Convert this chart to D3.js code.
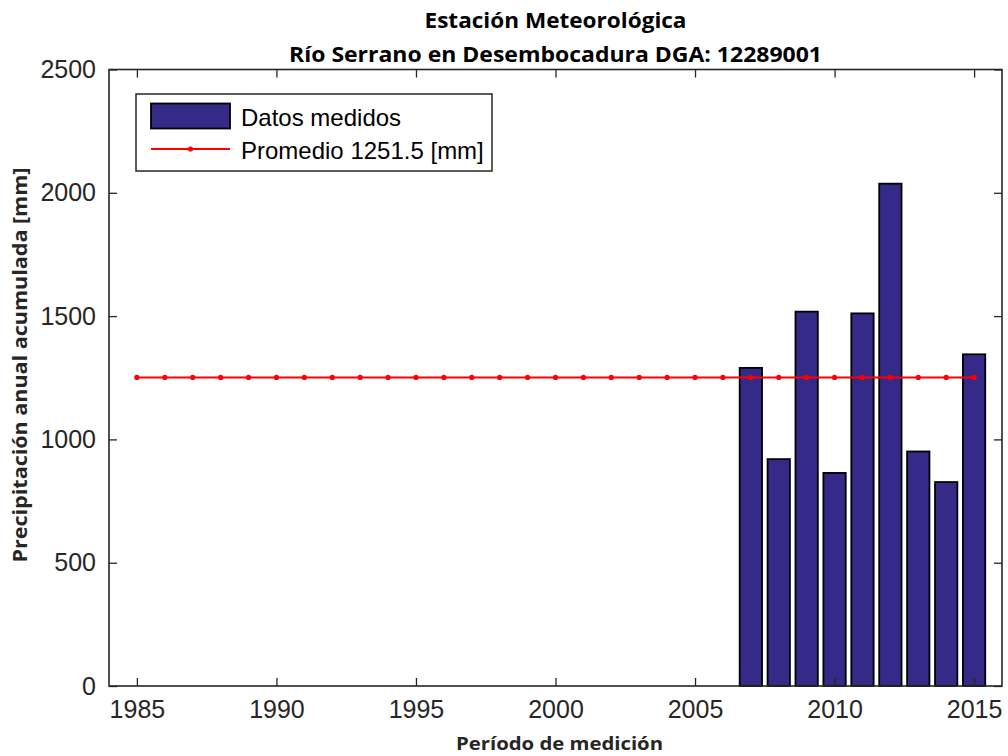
<!DOCTYPE html>
<html>
<head>
<meta charset="utf-8">
<script src="https://cdn.jsdelivr.net/npm/d3@7"></script>
<style>
  html, body { margin: 0; padding: 0; background: #fff; }
  svg { display: block; }
</style>
</head>
<body>
<svg id="chart" width="1008" height="756"></svg>
<script>
// ---- data ----
const years = [2007, 2008, 2009, 2010, 2011, 2012, 2013, 2014, 2015];
const precip = [1290, 920, 1518, 864, 1511, 2037, 951, 827, 1345];
const meanYears = [1985, 1986, 1987, 1988, 1989, 1990, 1991, 1992, 1993, 1994, 1995, 1996, 1997, 1998, 1999, 2000, 2001, 2002, 2003, 2004, 2005, 2006, 2007, 2008, 2009, 2010, 2011, 2012, 2013, 2014, 2015];
const meanValue = 1251.5;
const xTicks = [1985, 1990, 1995, 2000, 2005, 2010, 2015];
const yTicks = [0, 500, 1000, 1500, 2000, 2500];
const titleLines = ["Estación Meteorológica", "Río Serrano en Desembocadura DGA: 12289001"];
const xLabel = "Período de medición";
const yLabel = "Precipitación anual acumulada [mm]";
const legendLabels = ["Datos medidos", "Promedio 1251.5 [mm]"];

// ---- layout ----
const L = 109, R = 1002, T = 69.5, B = 686;
const axisColor = "#262626";
const barColor = "#352A87";
const svg = d3.select("#chart");

const x = d3.scaleLinear().domain([1984, 2016]).range([L, R]);
const y = d3.scaleLinear().domain([0, 2500]).range([B, T]);
const barW = (x(1) - x(0)) * 0.8;

// bars
svg.append("g").selectAll("rect").data(years).join("rect")
  .attr("x", (d) => x(d) - barW / 2)
  .attr("y", (d, i) => y(precip[i]))
  .attr("width", barW)
  .attr("height", (d, i) => y(0) - y(precip[i]))
  .attr("fill", barColor)
  .attr("stroke", "#000")
  .attr("stroke-width", 1.8);

// mean line
const line = d3.line().x((d) => x(d)).y(() => y(meanValue));
svg.append("path").datum(meanYears)
  .attr("d", line)
  .attr("fill", "none")
  .attr("stroke", "#FF0000")
  .attr("stroke-width", 2);
svg.append("g").selectAll("circle").data(meanYears).join("circle")
  .attr("cx", (d) => x(d))
  .attr("cy", y(meanValue))
  .attr("r", 2.6)
  .attr("fill", "#FF0000");

// axes
const tickFont = "'Liberation Sans', Arial, sans-serif";
function styleAxis(g) {
  g.select(".domain").remove();
  g.selectAll(".tick line").attr("stroke", axisColor).attr("stroke-width", 1.3);
  g.selectAll(".tick text").attr("fill", axisColor).attr("font-size", 25).attr("font-family", tickFont);
}
svg.append("g").attr("transform", `translate(0,${B})`)
  .call(d3.axisBottom(x).tickValues(xTicks).tickFormat(d3.format("d")).tickSizeInner(-8).tickSizeOuter(0).tickPadding(14))
  .call(styleAxis);
svg.append("g").attr("transform", `translate(0,${T})`)
  .call(d3.axisTop(x).tickValues(xTicks).tickFormat("").tickSizeInner(-8).tickSizeOuter(0))
  .call(styleAxis);
svg.append("g").attr("transform", `translate(${L},0)`)
  .call(d3.axisLeft(y).tickValues(yTicks).tickFormat(d3.format("d")).tickSizeInner(-8).tickSizeOuter(0).tickPadding(13))
  .call(styleAxis);
svg.append("g").attr("transform", `translate(${R},0)`)
  .call(d3.axisRight(y).tickValues(yTicks).tickFormat("").tickSizeInner(-8).tickSizeOuter(0))
  .call(styleAxis);

// box
svg.append("rect")
  .attr("x", L).attr("y", T).attr("width", R - L).attr("height", B - T)
  .attr("fill", "none").attr("stroke", axisColor).attr("stroke-width", 1.6);

// titles
const labFont = "'Open Sans', 'DejaVu Sans', sans-serif";
const titleWidths = [262, 533];
svg.append("g").selectAll("text").data(titleLines).join("text")
  .attr("x", (L + R) / 2)
  .attr("y", (d, i) => 28 + i * 34)
  .attr("text-anchor", "middle")
  .attr("font-family", labFont)
  .attr("font-weight", "bold")
  .attr("font-size", 21)
  .attr("textLength", (d, i) => titleWidths[i])
  .attr("lengthAdjust", "spacingAndGlyphs")
  .attr("fill", "#000")
  .text((d) => d);

svg.append("text")
  .attr("x", (L + R) / 2 + 4).attr("y", 750)
  .attr("text-anchor", "middle")
  .attr("font-family", labFont).attr("font-weight", "bold").attr("font-size", 18)
  .attr("textLength", 207).attr("lengthAdjust", "spacingAndGlyphs")
  .attr("fill", axisColor)
  .text(xLabel);

svg.append("text")
  .attr("transform", `translate(27,${365}) rotate(-90)`)
  .attr("text-anchor", "middle")
  .attr("font-family", labFont).attr("font-weight", "bold").attr("font-size", 19)
  .attr("textLength", 395).attr("lengthAdjust", "spacingAndGlyphs")
  .attr("fill", axisColor)
  .text(yLabel);

// legend
const lg = svg.append("g");
lg.append("rect").attr("x", 136).attr("y", 94).attr("width", 356).attr("height", 77)
  .attr("fill", "#fff").attr("stroke", axisColor).attr("stroke-width", 1.5);
lg.append("rect").attr("x", 151).attr("y", 103.5).attr("width", 79).attr("height", 25)
  .attr("fill", barColor).attr("stroke", "#000").attr("stroke-width", 1.8);
lg.append("line").attr("x1", 151).attr("x2", 230).attr("y1", 149).attr("y2", 149)
  .attr("stroke", "#FF0000").attr("stroke-width", 2);
lg.append("circle").attr("cx", 190.5).attr("cy", 149).attr("r", 2.6).attr("fill", "#FF0000");
lg.selectAll("text").data(legendLabels).join("text")
  .attr("x", 241)
  .attr("y", (d, i) => 125.5 + i * 33)
  .attr("font-family", tickFont)
  .attr("font-size", 24)
  .attr("fill", "#000")
  .text((d) => d);
</script>
</body>
</html>
